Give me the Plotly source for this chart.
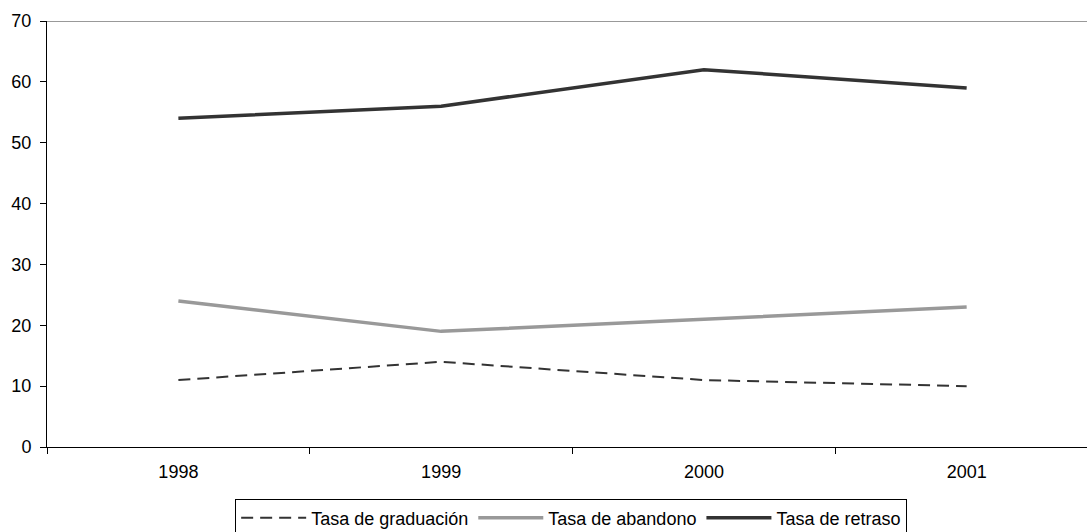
import plotly.graph_objects as go

years = ["1998", "1999", "2000", "2001"]
graduacion = [11, 14, 11, 10]
abandono = [24, 19, 21, 23]
retraso = [54, 56, 62, 59]
y_ticks = [0, 10, 20, 30, 40, 50, 60, 70]

FONT = "Liberation Sans, Arial, sans-serif"

fig = go.Figure()
fig.add_trace(go.Scatter(x=years, y=graduacion, mode="lines", name="Tasa de graduación",
                         line=dict(color="#333333", width=2, dash="12px,7px")))
fig.add_trace(go.Scatter(x=years, y=abandono, mode="lines", name="Tasa de abandono",
                         line=dict(color="#999999", width=3.5)))
fig.add_trace(go.Scatter(x=years, y=retraso, mode="lines", name="Tasa de retraso",
                         line=dict(color="#333333", width=3.5)))

fig.add_shape(type="line", xref="paper", yref="y", x0=0, x1=1, y0=70, y1=70,
              line=dict(color="#999999", width=2), layer="below")

fig.update_layout(
    width=1087, height=532,
    margin=dict(l=47, r=0, t=21, b=85, autoexpand=False),
    paper_bgcolor="white", plot_bgcolor="white",
    font=dict(family=FONT, size=18, color="black"),
    showlegend=True,
    legend=dict(orientation="h", x=0.504, xanchor="center", y=-0.121, yanchor="top",
                bordercolor="black", borderwidth=1, bgcolor="white",
                font=dict(family=FONT, size=18), tracegroupgap=0, itemwidth=65),
    xaxis=dict(type="category", range=[-0.5, 3.458], tickson="boundaries",
               ticks="outside", ticklen=6, tickcolor="black", showline=True,
               linecolor="black", linewidth=1, showgrid=False, zeroline=False,
               tickfont=dict(family=FONT, size=18), ticklabelstandoff=8),
    yaxis=dict(range=[0, 70], tickvals=y_ticks, ticks="outside", ticklen=6,
               tickcolor="black", showline=True, linecolor="black", linewidth=1,
               showgrid=False, zeroline=False, tickfont=dict(family=FONT, size=18),
               ticklabelstandoff=5),
)

fig.write_html("out.html", config={"displayModeBar": False},
               post_script="document.body.style.margin='0';")
